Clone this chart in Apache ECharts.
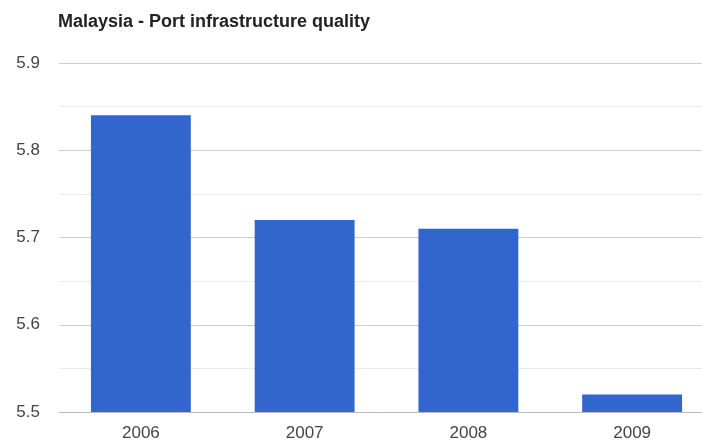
<!DOCTYPE html>
<html>
<head>
<meta charset="utf-8">
<script src="https://cdn.jsdelivr.net/npm/echarts@6/dist/echarts.min.js"></script>
<style>
  html, body { margin: 0; padding: 0; background: #fff; }
  #chart { width: 702px; height: 441px; }
</style>
</head>
<body>
<div id="chart"></div>
<script>
// Port infrastructure quality scores, Malaysia
const years = ['2006', '2007', '2008', '2009'];
const scores = [5.84, 5.72, 5.71, 5.52];
const yMin = 5.5;
const yMax = 5.9;
const yStep = 0.1;

const chart = echarts.init(document.getElementById('chart'));
chart.setOption({
  animation: false,
  textStyle: { fontFamily: 'Liberation Sans, Arial, sans-serif' },
  title: {
    text: 'Malaysia - Port infrastructure quality',
    left: 58,
    top: 13,
    padding: 0,
    textStyle: { fontSize: 18, fontWeight: 'bold', color: '#222' }
  },
  grid: { left: 59, top: 63, width: 655, height: 349, containLabel: false, outerBoundsMode: 'none' },
  xAxis: {
    type: 'category',
    data: years,
    axisTick: { show: false },
    axisLine: { lineStyle: { color: '#bbb' } },
    axisLabel: { color: '#444', fontSize: 17, margin: 13 }
  },
  yAxis: {
    type: 'value',
    min: yMin,
    max: yMax,
    interval: yStep,
    axisLine: { show: false },
    axisTick: { show: false },
    axisLabel: {
      color: '#444', fontSize: 17, margin: 19,
      formatter: v => v.toFixed(1)
    },
    splitLine: { lineStyle: { color: '#ccc' } },
    minorTick: { show: false, splitNumber: 2 },
    minorSplitLine: { show: true, lineStyle: { color: '#ebebeb' } }
  },
  series: [{
    type: 'bar',
    data: scores,
    barWidth: '61%',
    itemStyle: { color: '#3366cc' }
  }]
});
</script>
</body>
</html>
